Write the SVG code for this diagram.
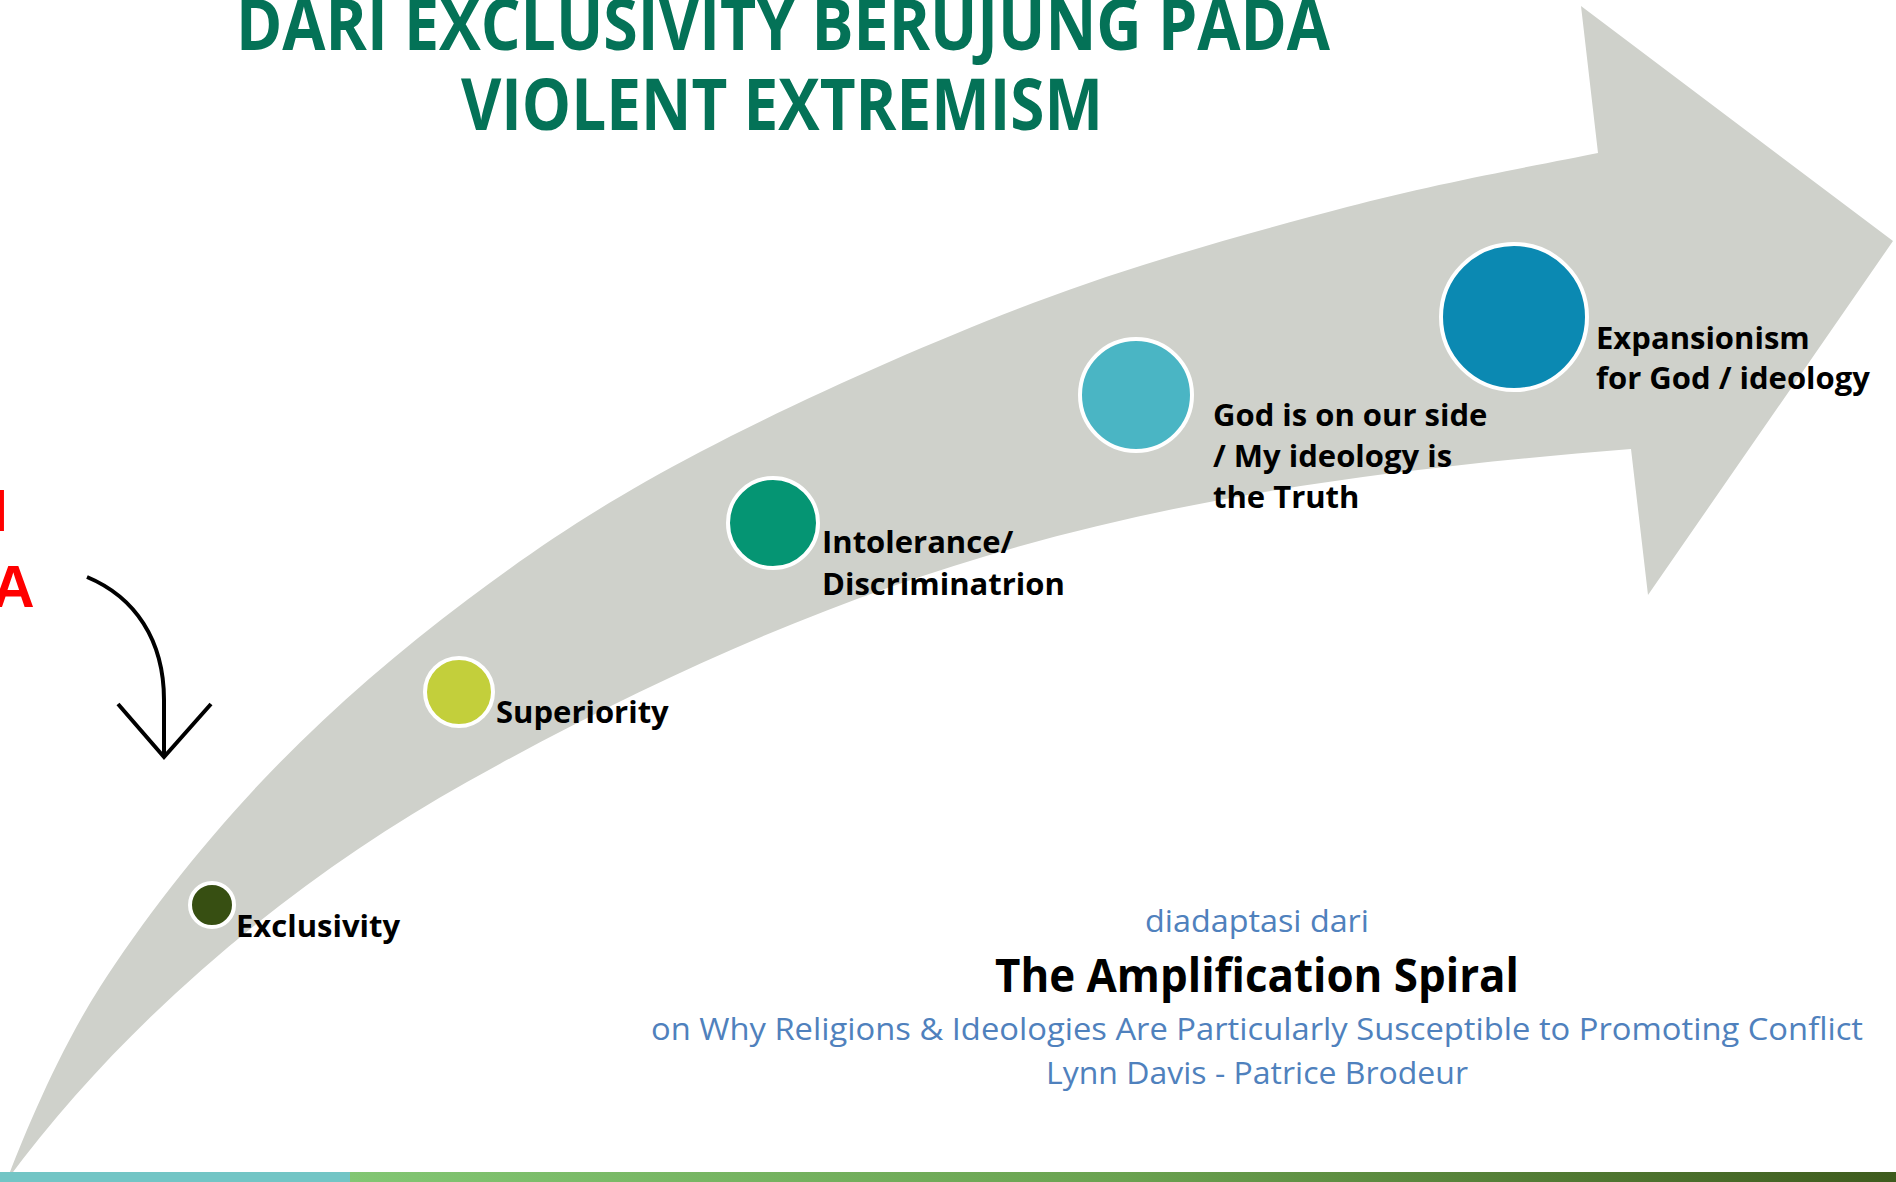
<svg xmlns="http://www.w3.org/2000/svg" width="1896" height="1182" viewBox="0 0 1896 1182">
  <defs>
    <linearGradient id="barGreen" x1="0" y1="0" x2="1" y2="0">
      <stop offset="0" stop-color="#82c673"/>
      <stop offset="0.5" stop-color="#6aa250"/>
      <stop offset="1" stop-color="#3e5b1d"/>
    </linearGradient>
  </defs>
  <style>
    .title { font-family: "Open Sans", "Liberation Sans", sans-serif; font-weight: 700; font-size: 72px; fill: #047257; }
    .lbl { font-family: "Open Sans", "Liberation Sans", sans-serif; font-weight: 700; font-size: 31px; fill: #000000; }
    .dot { stroke: #ffffff; stroke-width: 4; }
    .blue { font-family: "Open Sans", "Liberation Sans", sans-serif; font-weight: 400; font-size: 31px; fill: #4f81bd; }
    .sub { font-family: "Open Sans", "Liberation Sans", sans-serif; font-weight: 700; font-size: 47px; fill: #000000; }
    .red { font-family: "Liberation Sans", Arial, sans-serif; font-weight: 700; font-size: 59px; fill: #ff0000; }
    .conn { fill: none; stroke: #000000; stroke-width: 4; }
  </style>
  <rect x="0" y="0" width="1896" height="1182" fill="#ffffff"/>

  <g id="spiral-arrow">
    <path fill="#cfd1cb" d="M7,1180 C22,1140 57.3,1053.7 100,987 C142.7,920.3 201.8,844.5 263,780 C324.2,715.5 394.2,654.7 467,600 C539.8,545.3 605.7,501.5 700,452 C794.3,402.5 925.2,343.8 1033,303 C1140.8,262.2 1253,232 1347,207 C1441,182 1555.3,162 1598,153 L1581,6 L1893,241 L1648,595 L1631,449 C1182,485 886,548 467,782 C292,880 126,1019 7,1180 Z"/>
  </g>

  <g id="title">
    <text class="title" x="236" y="50" textLength="1094" lengthAdjust="spacingAndGlyphs">DARI EXCLUSIVITY BERUJUNG PADA</text>
    <text class="title" x="461" y="129.5" textLength="642" lengthAdjust="spacingAndGlyphs">VIOLENT EXTREMISM</text>
  </g>

  <g id="red-text">
    <text class="red" x="-8.5" y="531">I</text>
    <text class="red" x="-8" y="607">A</text>
  </g>

  <g id="connectors">
    <path class="conn" d="M87,577 C135,597 164,640 164,700 L164,757"/>
    <path class="conn" d="M118,704 L164,757 L211,704"/>
  </g>

  <g id="node-exclusivity">
    <circle class="dot" cx="212" cy="905" r="22" fill="#374f12"/>
    <text class="lbl" x="236" y="937">Exclusivity</text>
  </g>
  <g id="node-superiority">
    <circle class="dot" cx="459" cy="692" r="34" fill="#c3cf3b"/>
    <text class="lbl" x="496" y="723">Superiority</text>
  </g>
  <g id="node-intolerance">
    <circle class="dot" cx="773" cy="523" r="45" fill="#059573"/>
    <text class="lbl" x="822" y="553">Intolerance/</text>
    <text class="lbl" x="822" y="595">Discriminatrion</text>
  </g>
  <g id="node-god">
    <circle class="dot" cx="1136" cy="395" r="56" fill="#4ab5c4"/>
    <text class="lbl" x="1213" y="426">God is on our side</text>
    <text class="lbl" x="1213" y="467">/ My ideology is</text>
    <text class="lbl" x="1213" y="508">the Truth</text>
  </g>
  <g id="node-expansionism">
    <circle class="dot" cx="1514" cy="317" r="73" fill="#0b89b2"/>
    <text class="lbl" x="1596" y="349">Expansionism</text>
    <text class="lbl" x="1596" y="389">for God / ideology</text>
  </g>

  <g id="source">
    <text class="blue" x="1145" y="932" textLength="224" lengthAdjust="spacingAndGlyphs">diadaptasi dari</text>
    <text class="sub" x="995" y="992" textLength="524" lengthAdjust="spacingAndGlyphs">The Amplification Spiral</text>
    <text class="blue" x="651" y="1040" textLength="1212" lengthAdjust="spacingAndGlyphs">on Why Religions &amp; Ideologies Are Particularly Susceptible to Promoting Conflict</text>
    <text class="blue" x="1046" y="1084" textLength="422" lengthAdjust="spacingAndGlyphs">Lynn Davis - Patrice Brodeur</text>
  </g>

  <g id="bottom-bar">
    <rect x="0" y="1172" width="350" height="10" fill="#72c5c5"/>
    <rect x="350" y="1172" width="1546" height="10" fill="url(#barGreen)"/>
  </g>
</svg>
